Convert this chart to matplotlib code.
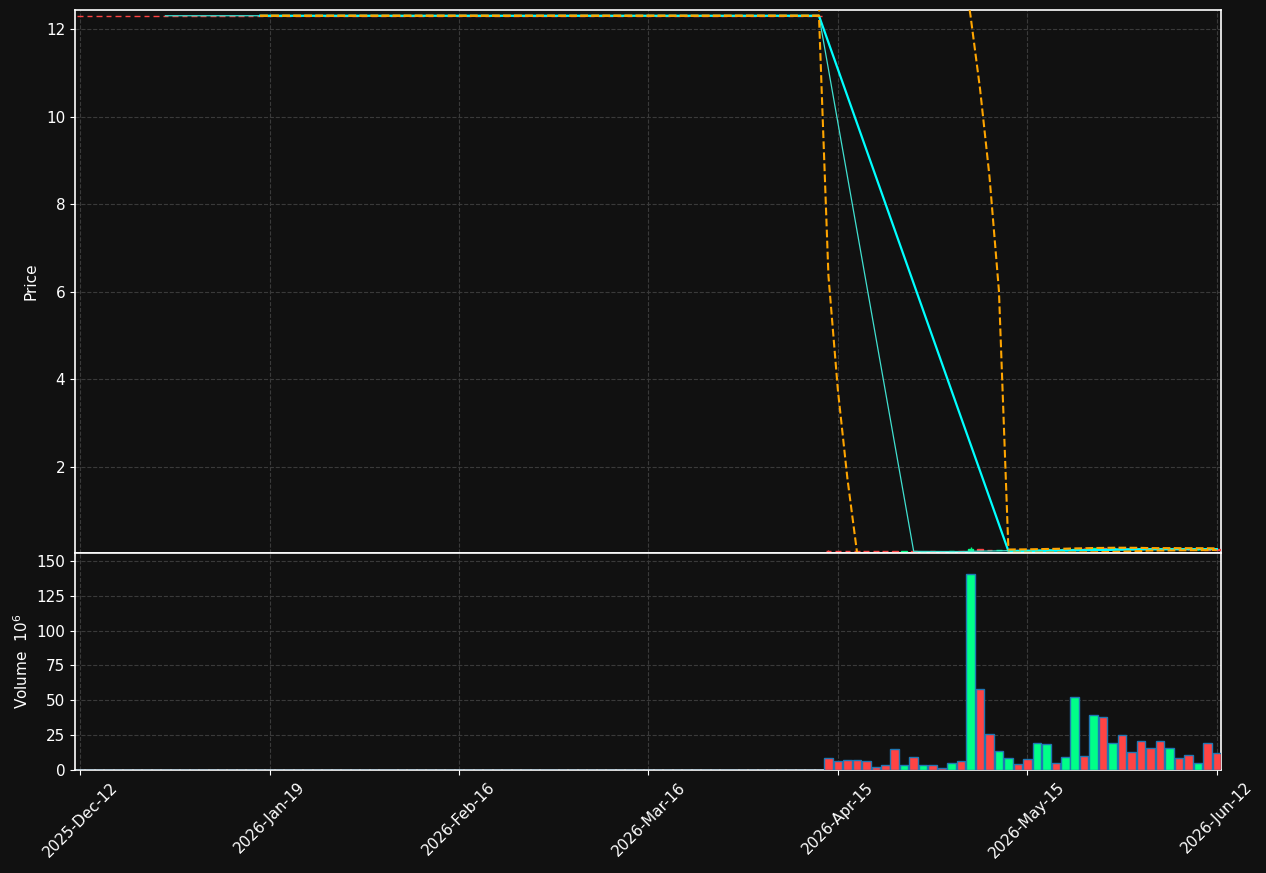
import numpy as np
import pandas as pd
import matplotlib
matplotlib.use("Agg")
import matplotlib.pyplot as plt

# ---------------- data ----------------
n_flat = 79
flat_price = 12.3

open_tail = [0.095, 0.090, 0.085, 0.082, 0.080, 0.078, 0.077, 0.078, 0.070, 0.076,
             0.070, 0.074, 0.072, 0.070, 0.075, 0.072, 0.130, 0.115, 0.100, 0.108,
             0.112, 0.106, 0.100, 0.115, 0.122, 0.118, 0.120, 0.140, 0.130, 0.145,
             0.135, 0.145, 0.140, 0.135, 0.130, 0.128, 0.122, 0.130, 0.126, 0.120,
             0.126, 0.120]
close_tail = [0.088, 0.082, 0.080, 0.078, 0.076, 0.075, 0.074, 0.070, 0.075, 0.070,
              0.073, 0.071, 0.070, 0.074, 0.072, 0.130, 0.110, 0.100, 0.108, 0.112,
              0.105, 0.100, 0.115, 0.122, 0.118, 0.122, 0.140, 0.130, 0.145, 0.135,
              0.145, 0.138, 0.132, 0.128, 0.125, 0.122, 0.130, 0.125, 0.120, 0.124,
              0.118, 0.115]
high_tail = [0.100, 0.092, 0.087, 0.084, 0.082, 0.080, 0.079, 0.080, 0.077, 0.078,
             0.075, 0.076, 0.074, 0.076, 0.077, 0.170, 0.140, 0.117, 0.112, 0.116,
             0.114, 0.108, 0.118, 0.126, 0.124, 0.125, 0.145, 0.142, 0.150, 0.147,
             0.150, 0.148, 0.142, 0.137, 0.133, 0.130, 0.133, 0.132, 0.128, 0.127,
             0.128, 0.122]
low_tail = [0.085, 0.080, 0.078, 0.075, 0.074, 0.073, 0.072, 0.068, 0.068, 0.068,
            0.068, 0.069, 0.068, 0.068, 0.070, 0.070, 0.108, 0.097, 0.098, 0.106,
            0.103, 0.098, 0.098, 0.113, 0.115, 0.116, 0.118, 0.128, 0.128, 0.132,
            0.133, 0.136, 0.130, 0.126, 0.123, 0.120, 0.120, 0.123, 0.118, 0.118,
            0.116, 0.112]
volume_tail = [8.3, 6.2, 6.9, 6.9, 6.2, 2.4, 3.3, 14.8, 3.3, 9.1,
               3.3, 3.3, 1.2, 4.8, 6.2, 140.7, 58.4, 25.5, 13.4, 8.3,
               4.1, 7.6, 19.1, 18.4, 4.8, 9.1, 52.7, 9.8, 39.1, 37.7,
               19.1, 24.8, 12.6, 20.5, 15.5, 20.5, 15.5, 8.3, 10.5, 4.8,
               19.1, 11.9]  # millions

opens = [flat_price] * n_flat + open_tail
closes = [flat_price] * n_flat + close_tail
highs = [flat_price] * n_flat + high_tail
lows = [flat_price] * n_flat + low_tail
volumes = [0.0] * n_flat + volume_tail

tick_positions = [0, 20, 40, 60, 80, 100, 120]
tick_labels = ["2025-Dec-12", "2026-Jan-19", "2026-Feb-16", "2026-Mar-16",
               "2026-Apr-15", "2026-May-15", "2026-Jun-12"]
price_ticks = [2, 4, 6, 8, 10, 12]
volume_ticks = [0, 25, 50, 75, 100, 125, 150]

# ---------------- styling ----------------
BG = "#111111"
UP = "#00ff88"
DOWN = "#ff4444"
GRID = "#3a3a3a"

df = pd.DataFrame({"o": opens, "h": highs, "l": lows, "c": closes, "v": volumes})
x = np.arange(len(df))
mav10 = df["c"].rolling(10).mean()
mav20 = df["c"].rolling(20).mean()
std20 = df["c"].rolling(20).std(ddof=0)
upper = mav20 + 2 * std20
lower = mav20 - 2 * std20

fig = plt.figure(figsize=(12.66, 8.73), dpi=100, facecolor=BG)
ax = fig.add_axes([0.0592, 0.3666, 0.9053, 0.6219], facecolor=BG)
axv = fig.add_axes([0.0592, 0.1180, 0.9053, 0.2486], facecolor=BG, sharex=ax)

up_mask = df["c"] > df["o"]
colors = np.where(up_mask, UP, DOWN)

# candles
body_bottom = np.minimum(df["o"], df["c"])
body_h = np.abs(df["c"] - df["o"])
ax.vlines(x, df["l"], df["h"], colors=colors, linewidth=1, zorder=3)
ax.bar(x, body_h, bottom=body_bottom, width=0.6, color=colors,
       edgecolor=colors, linewidth=1, zorder=3)

# moving averages and bands
ax.plot(x, mav10, color="#40e0d0", linewidth=0.9, zorder=4)
ax.plot(x, mav20, color="#00ffff", linewidth=1.6, zorder=4)
ax.plot(x, upper, color="#ffa500", linewidth=1.5, linestyle="--", zorder=4)
ax.plot(x, lower, color="#ffa500", linewidth=1.5, linestyle="--", zorder=4)

# volume
axv.bar(x, df["v"], width=0.9, color=colors, edgecolor="#1f77b4",
        linewidth=1, zorder=3)

ax.set_xlim(-0.55, 120.45)
ax.set_ylim(0.04, 12.43)
axv.set_ylim(0, 155.7)

ax.set_yticks(price_ticks)
axv.set_yticks(volume_ticks)
axv.set_xticks(tick_positions)
axv.set_xticklabels(tick_labels, rotation=45, ha="center")
plt.setp(ax.get_xticklabels(), visible=False)
ax.tick_params(axis="x", length=0)

for a in (ax, axv):
    a.grid(True, color=GRID, linestyle="--", linewidth=0.8)
    a.set_axisbelow(True)
    for s in a.spines.values():
        s.set_color("white")
        s.set_linewidth(1.2)
    a.tick_params(colors="white", labelsize=11)

ax.set_ylabel("Price", color="white", fontsize=11)
axv.set_ylabel("Volume  $10^{6}$", color="white", fontsize=11)
ax.yaxis.set_label_coords(-0.032, 0.5)
axv.yaxis.set_label_coords(-0.038, 0.5)

fig.savefig("out.png", dpi=100, facecolor=BG)
